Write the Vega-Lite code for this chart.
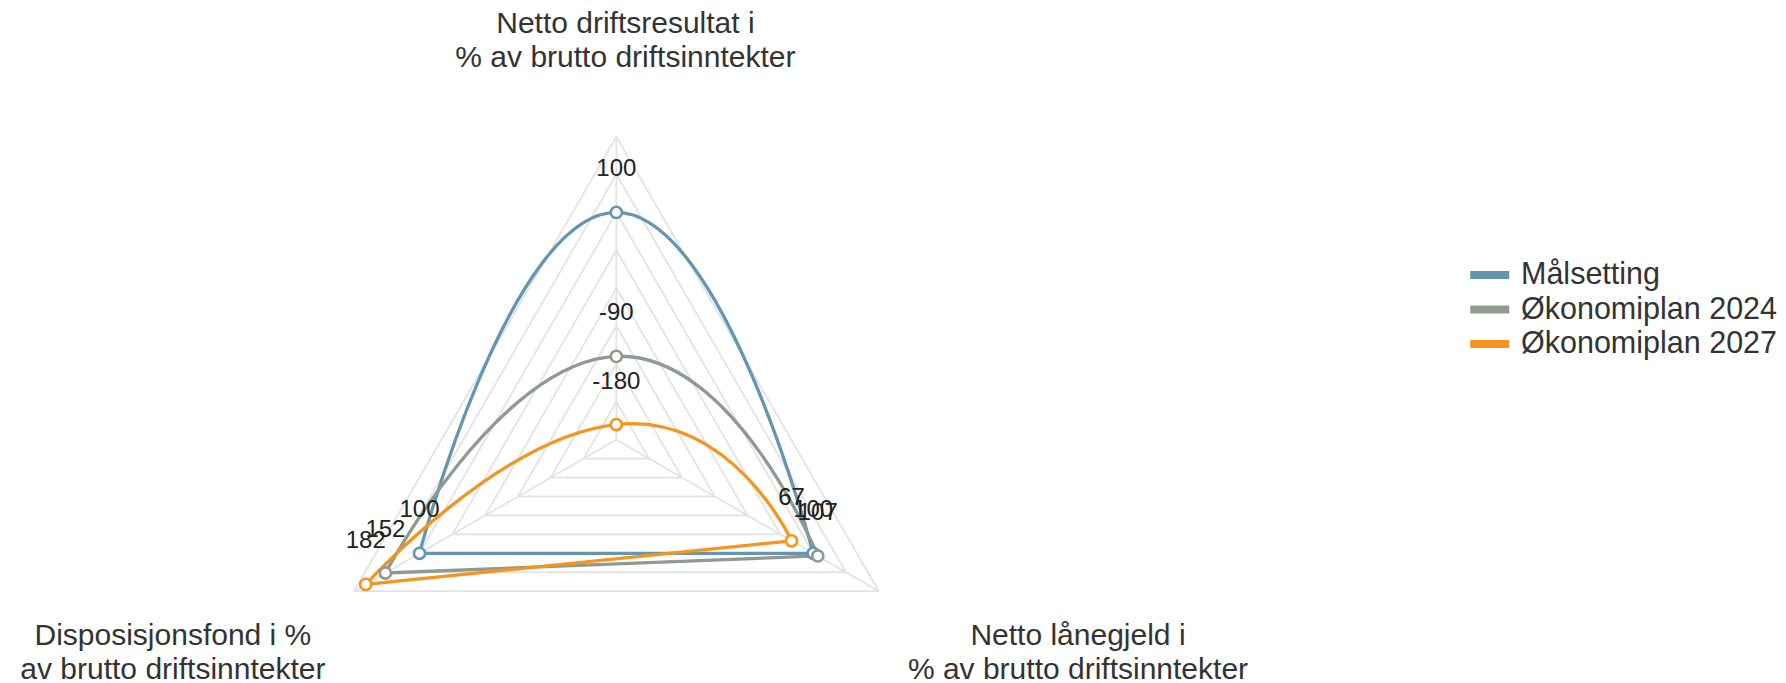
{
  "$schema": "https://vega.github.io/schema/vega-lite/v6.json",
  "width": 1786,
  "height": 683,
  "padding": 0,
  "autosize": {"type": "none"},
  "background": "white",
  "config": {"view": {"stroke": null}, "font": "Liberation Sans"},
  "datasets": {
    "series": [
      {"series": "Målsetting", "idx": 0, "value": 100},
      {"series": "Målsetting", "idx": 1, "value": 100},
      {"series": "Målsetting", "idx": 2, "value": 100},
      {"series": "Økonomiplan 2024", "idx": 0, "value": -90},
      {"series": "Økonomiplan 2024", "idx": 1, "value": 107},
      {"series": "Økonomiplan 2024", "idx": 2, "value": 152},
      {"series": "Økonomiplan 2027", "idx": 0, "value": -180},
      {"series": "Økonomiplan 2027", "idx": 1, "value": 67},
      {"series": "Økonomiplan 2027", "idx": 2, "value": 182}
    ],
    "grid": [
      {"tick": -150, "idx": 0}, {"tick": -150, "idx": 1}, {"tick": -150, "idx": 2},
      {"tick": -100, "idx": 0}, {"tick": -100, "idx": 1}, {"tick": -100, "idx": 2},
      {"tick": -50, "idx": 0}, {"tick": -50, "idx": 1}, {"tick": -50, "idx": 2},
      {"tick": 0, "idx": 0}, {"tick": 0, "idx": 1}, {"tick": 0, "idx": 2},
      {"tick": 50, "idx": 0}, {"tick": 50, "idx": 1}, {"tick": 50, "idx": 2},
      {"tick": 100, "idx": 0}, {"tick": 100, "idx": 1}, {"tick": 100, "idx": 2},
      {"tick": 150, "idx": 0}, {"tick": 150, "idx": 1}, {"tick": 150, "idx": 2},
      {"tick": 200, "idx": 0}, {"tick": 200, "idx": 1}, {"tick": 200, "idx": 2}
    ],
    "axes": [
      {"idx": 0, "title": ["Netto driftsresultat i", "% av brutto driftsinntekter"]},
      {"idx": 1, "title": ["Netto lånegjeld i", "% av brutto driftsinntekter"]},
      {"idx": 2, "title": ["Disposisjonsfond i %", "av brutto driftsinntekter"]}
    ]
  },
  "layer": [
    {
      "data": {"name": "grid"},
      "transform": [
        {"calculate": "(datum.tick + 200) / 400", "as": "r"},
        {"calculate": "datum.idx * 2 * PI / 3", "as": "a1"},
        {"calculate": "(datum.idx + 1) * 2 * PI / 3", "as": "a2"},
        {"calculate": "datum.r * sin(datum.a1)", "as": "x"},
        {"calculate": "datum.r * cos(datum.a1)", "as": "y"},
        {"calculate": "datum.r * sin(datum.a2)", "as": "x2"},
        {"calculate": "datum.r * cos(datum.a2)", "as": "y2"}
      ],
      "mark": {"type": "rule", "color": "#e3e3e3", "strokeWidth": 1.8},
      "encoding": {
        "x": {"field": "x", "type": "quantitative", "scale": {"domain": [-2.034, 3.86], "nice": false, "zero": false}, "axis": null},
        "y": {"field": "y", "type": "quantitative", "scale": {"domain": [-0.803, 1.451], "nice": false, "zero": false}, "axis": null},
        "x2": {"field": "x2"},
        "y2": {"field": "y2"}
      }
    },
    {
      "data": {"name": "axes"},
      "transform": [
        {"calculate": "datum.idx * 2 * PI / 3", "as": "a"},
        {"calculate": "0", "as": "x"},
        {"calculate": "0", "as": "y"},
        {"calculate": "sin(datum.a)", "as": "x2"},
        {"calculate": "cos(datum.a)", "as": "y2"}
      ],
      "mark": {"type": "rule", "color": "#e3e3e3", "strokeWidth": 1.8},
      "encoding": {
        "x": {"field": "x", "type": "quantitative"},
        "y": {"field": "y", "type": "quantitative"},
        "x2": {"field": "x2"},
        "y2": {"field": "y2"}
      }
    },
    {
      "data": {"name": "axes"},
      "transform": [
        {"calculate": "datum.idx * 2 * PI / 3", "as": "a"},
        {"calculate": "1.7245 * sin(datum.a) + 0.03", "as": "x"},
        {"calculate": "1.346 * cos(datum.a) - 0.005", "as": "y"}
      ],
      "mark": {"type": "text", "fontSize": 30, "lineHeight": 33.4, "align": "center", "baseline": "alphabetic", "color": "#333333", "font": "Liberation Sans"},
      "encoding": {
        "x": {"field": "x", "type": "quantitative"},
        "y": {"field": "y", "type": "quantitative"},
        "text": {"field": "title"}
      }
    },
    {
      "data": {"name": "series"},
      "transform": [
        {"calculate": "datum.idx * 2 * PI / 3", "as": "a"},
        {"calculate": "(datum.value + 200) / 400", "as": "r"},
        {"calculate": "datum.r * sin(datum.a)", "as": "x"},
        {"calculate": "datum.r * cos(datum.a)", "as": "y"},
        {"calculate": "(datum.idx + 1) % 3", "as": "ord"}
      ],
      "mark": {"type": "line", "interpolate": "cardinal", "tension": -0.64, "strokeWidth": 3.3},
      "encoding": {
        "x": {"field": "x", "type": "quantitative"},
        "y": {"field": "y", "type": "quantitative"},
        "order": {"field": "ord"},
        "color": {
          "field": "series", "type": "nominal",
          "scale": {"domain": ["Målsetting", "Økonomiplan 2024", "Økonomiplan 2027"], "range": ["#6496b2", "#8e9b8e", "#f7941e"]},
          "legend": {
            "orient": "none", "legendX": 1474.5, "legendY": 259.8, "title": null,
            "symbolType": "M-2,0H2", "symbolStrokeWidth": 8, "symbolSize": 380,
            "labelFontSize": 30.5, "labelFont": "Liberation Sans", "labelColor": "#333333",
            "labelLimit": 0, "labelOffset": 16, "rowPadding": 1.5, "padding": 0
          }
        }
      }
    },
    {
      "data": {"name": "series"},
      "transform": [
        {"filter": "datum.idx != 0"},
        {"calculate": "datum.idx * 2 * PI / 3", "as": "a"},
        {"calculate": "(datum.value + 200) / 400", "as": "r"},
        {"calculate": "datum.r * sin(datum.a)", "as": "x"},
        {"calculate": "datum.r * cos(datum.a)", "as": "y"}
      ],
      "mark": {"type": "line", "strokeWidth": 3.3},
      "encoding": {
        "x": {"field": "x", "type": "quantitative"},
        "y": {"field": "y", "type": "quantitative"},
        "order": {"field": "idx"},
        "color": {"field": "series", "type": "nominal"}
      }
    },
    {
      "data": {"name": "series"},
      "transform": [
        {"calculate": "datum.idx * 2 * PI / 3", "as": "a"},
        {"calculate": "(datum.value + 200) / 400", "as": "r"},
        {"calculate": "datum.r * sin(datum.a)", "as": "x"},
        {"calculate": "datum.r * cos(datum.a)", "as": "y"}
      ],
      "mark": {"type": "point", "shape": "circle", "size": 125, "strokeWidth": 2.6, "filled": true, "fill": "white", "opacity": 1},
      "encoding": {
        "x": {"field": "x", "type": "quantitative"},
        "y": {"field": "y", "type": "quantitative"},
        "stroke": {
          "field": "series", "type": "nominal",
          "scale": {"domain": ["Målsetting", "Økonomiplan 2024", "Økonomiplan 2027"], "range": ["#6496b2", "#8e9b8e", "#f7941e"]},
          "legend": null
        }
      }
    },
    {
      "data": {"name": "series"},
      "transform": [
        {"calculate": "datum.idx * 2 * PI / 3", "as": "a"},
        {"calculate": "(datum.value + 200) / 400", "as": "r"},
        {"calculate": "datum.r * sin(datum.a)", "as": "x"},
        {"calculate": "datum.r * cos(datum.a)", "as": "y"}
      ],
      "mark": {"type": "text", "fontSize": 24, "dy": -36, "align": "center", "baseline": "alphabetic", "color": "#222222", "font": "Liberation Sans"},
      "encoding": {
        "x": {"field": "x", "type": "quantitative"},
        "y": {"field": "y", "type": "quantitative"},
        "text": {"field": "value", "type": "nominal"}
      }
    }
  ]
}
